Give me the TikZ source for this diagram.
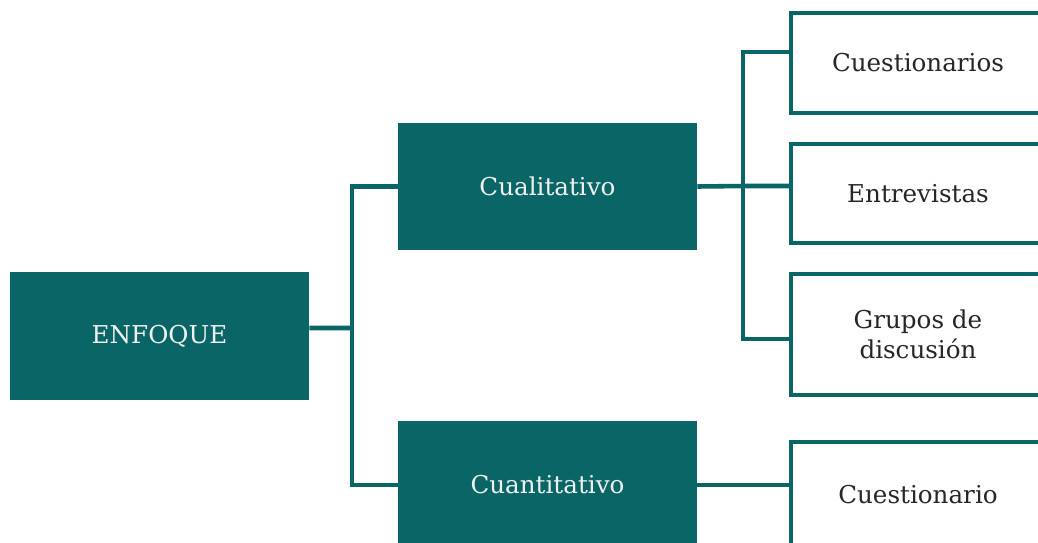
\documentclass[tikz,border=0pt]{standalone}
\usepackage{fontspec}
\setmainfont{DejaVu Serif}
\definecolor{verde}{RGB}{10,102,102}
\begin{document}
\begin{tikzpicture}[x=0.02cm, y=-0.02cm]
			\tikzset{caja/.style={rectangle, fill=verde, text=white!94!black, minimum width=5.98cm, minimum height=2.56cm, inner sep=0pt, font=\fontsize{14}{17}\selectfont},
			hoja/.style={rectangle, draw=verde, line width=1.9pt, fill=white, text=black!85, minimum width=5.08cm, align=center, inner sep=0pt, font=\fontsize{14}{17}\selectfont},
			enlace/.style={draw=verde, line width=2.6pt}};
			\useasboundingbox (0,0) rectangle (1038,542);

			\node[caja] (enfoque) at (159.5,336) {ENFOQUE};
			\node[caja] (cuali) at (547.5,186.5) {Cualitativo};
			\node[caja] (cuanti) at (547.5,485) {Cuantitativo};

			\foreach \name/\y/\h/\txt in {cuest/63/2.0/Cuestionarios, entre/193.5/1.98/Entrevistas, grupos/334.5/2.42/{Grupos de\\discusión}, cuestb/495/2.12/Cuestionario}{
				\node[hoja, minimum height=\h cm] (\name) at (918,\y) {\txt};
			}

			\coordinate (j1) at (352,328);
			\coordinate (j2) at (743,186);
			\draw[enlace] ([yshift=0.16cm]enfoque.east) -- (j1);
			\draw[enlace] (cuali.west) -| (j1) |- (cuanti.west);
			\draw[enlace] (cuali.east) -- (j2) -- (j2 -| entre.west);
			\draw[enlace] ([yshift=0.22cm]cuest.west) -| (j2) |- ([yshift=-0.09cm]grupos.west);
			\draw[enlace] (cuanti.east) -- (cuanti.east -| cuestb.west);

		\end{tikzpicture}
\end{document}
